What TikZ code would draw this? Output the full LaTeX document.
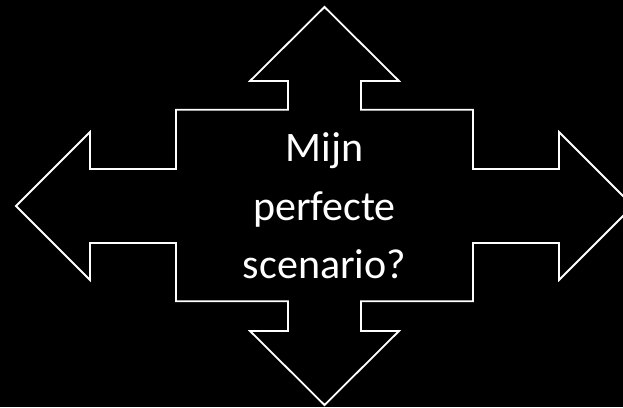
\documentclass[tikz,border=0pt]{standalone}
\usepackage{fontspec}
\setmainfont{Carlito}
\begin{document}
\begin{tikzpicture}[x=1pt,y=-1pt,
  outline/.style={draw=white,line width=1.8pt,line join=miter},
  label/.style={text=white,align=center,inner sep=0pt,font=\fontsize{42}{58.5}\selectfont}]
\useasboundingbox (0,0) rectangle (623,407);
\fill[black] (0,0) rectangle (623,407);
\begin{scope}
\clip (0,0) rectangle (623,407);
\draw[outline] (324.5,7) -- (399,81) -- (361,81) -- (361,109.7) -- (473,109.7) -- (473,169)
  -- (559,169) -- (559,132) -- (633,206) -- (559,280) -- (559,243) -- (473,243)
  -- (473,301.3) -- (361,301.3) -- (361,331) -- (399,331) -- (324.5,405) -- (250,331)
  -- (288,331) -- (288,301.3) -- (176,301.3) -- (176,243) -- (90,243) -- (90,280)
  -- (16,206) -- (90,132) -- (90,169) -- (176,169) -- (176,109.7) -- (288,109.7)
  -- (288,81) -- (250,81) -- cycle;
\end{scope}
\node[label] (txt) at (324.5,206) {Mijn\\perfecte\\scenario?};
\end{tikzpicture}
\end{document}
